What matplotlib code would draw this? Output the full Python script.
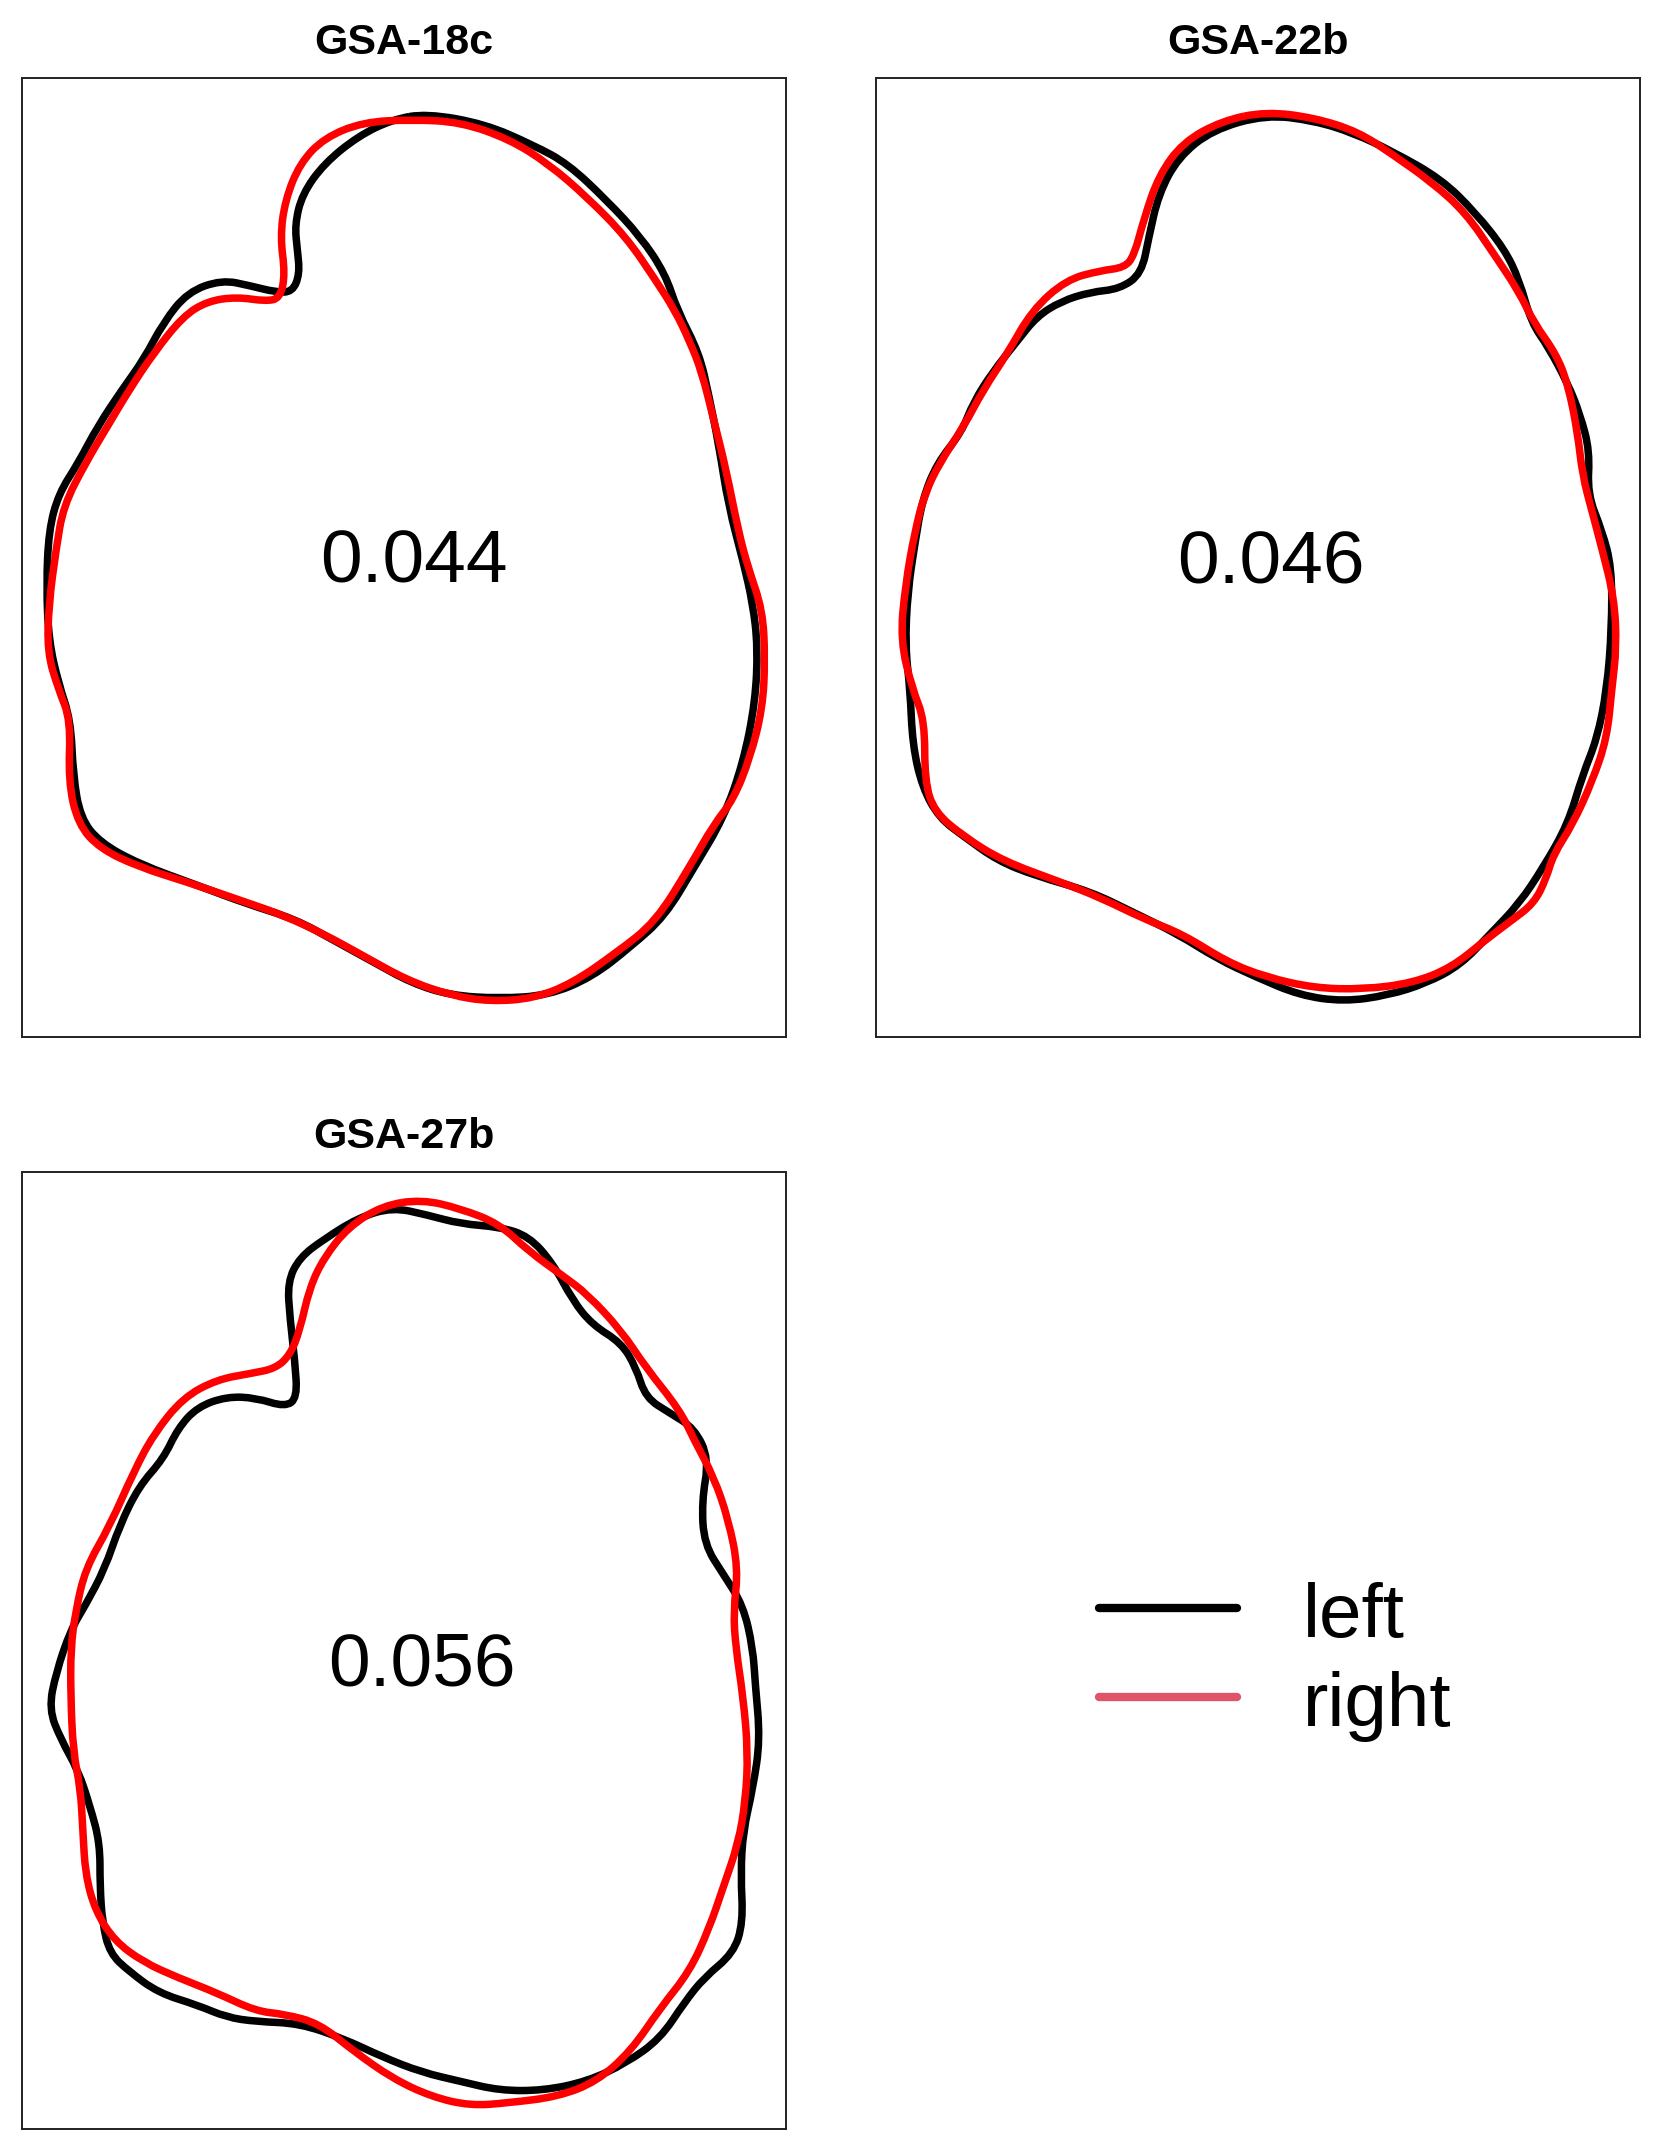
import matplotlib.pyplot as plt
from matplotlib.lines import Line2D
from matplotlib.path import Path
from matplotlib.patches import PathPatch
import numpy as np

plt.rcParams['font.family'] = ['Liberation Sans', 'DejaVu Sans']

# outlines (x to the right, y downwards, 0..1568 box)
a18_left_x = [830, 950, 1050, 1120, 1200, 1270, 1320, 1345, 1390, 1410, 1430, 1450, 1480, 1500, 1510, 1505,
              1480, 1440, 1380, 1320, 1250, 1170, 1080, 980, 880, 800, 720, 640, 560, 460, 360, 240, 160,
              120, 105, 100, 75, 55, 50, 55, 75, 115, 155, 205, 250, 290, 340, 410, 470, 520, 555, 570,
              565, 560, 575, 620, 690, 760]
a18_left_y = [58, 75, 110, 140, 200, 260, 320, 380, 450, 520, 600, 700, 790, 860, 930, 1020,
              1120, 1210, 1290, 1370, 1420, 1470, 1500, 1505, 1500, 1480, 1445, 1410, 1375, 1350, 1320, 1285, 1250,
              1210, 1140, 1050, 990, 920, 830, 740, 680, 630, 570, 510, 460, 400, 350, 330, 340, 350, 350, 320,
              280, 240, 190, 140, 95, 68]
a18_right_x = [700, 800, 900, 1000, 1080, 1160, 1240, 1300, 1340, 1370, 1395, 1420, 1445, 1470, 1490, 1520,
               1525, 1520, 1495, 1460, 1420, 1370, 1300, 1220, 1130, 1050, 960, 880, 790, 700, 620, 540, 450,
               340, 240, 160, 115, 95, 100, 75, 52, 55, 70, 85, 130, 175, 220, 270, 330, 380, 440, 500,
               530, 540, 530, 540, 570, 620]
a18_right_y = [72, 68, 72, 100, 140, 195, 260, 330, 380, 430, 480, 560, 640, 740, 800, 870,
               950, 1030, 1110, 1180, 1220, 1290, 1380, 1430, 1480, 1505, 1510, 1500, 1475, 1435, 1400, 1370, 1345,
               1315, 1290, 1260, 1220, 1150, 1050, 1000, 940, 860, 770, 700, 630, 570, 510, 450, 390, 365, 358, 365,
               360, 320, 260, 200, 140, 98]

a22_left_x = [800, 900, 980, 1060, 1160, 1230, 1290, 1320, 1345, 1380, 1420, 1445, 1465, 1460, 1490, 1510,
              1510, 1500, 1480, 1450, 1420, 1370, 1320, 1260, 1200, 1130, 1050, 960, 870, 780, 700, 620, 530,
              440, 330, 250, 180, 130, 95, 75, 70, 60, 65, 80, 95, 125, 175, 200, 240, 290, 330, 380,
              440, 500, 545, 560, 580, 620, 690]
a22_left_y = [60, 70, 90, 120, 165, 220, 280, 330, 400, 440, 500, 550, 610, 680, 740, 800,
              900, 1000, 1080, 1140, 1220, 1290, 1350, 1400, 1450, 1480, 1500, 1510, 1500, 1470, 1440, 1400, 1365,
              1330, 1305, 1280, 1240, 1210, 1160, 1090, 1000, 930, 840, 760, 690, 630, 580, 530, 480, 430, 390, 365,
              350, 345, 320, 260, 190, 130, 85]
a22_right_x = [800, 900, 990, 1060, 1140, 1210, 1270, 1320, 1350, 1395, 1420, 1440, 1450, 1470, 1490, 1515,
               1520, 1510, 1500, 1470, 1430, 1390, 1375, 1350, 1300, 1250, 1180, 1100, 1000, 900, 800, 720, 630,
               550, 460, 380, 260, 180, 120, 100, 100, 75, 50, 60, 80, 100, 130, 180, 220, 270, 320, 390,
               460, 510, 530, 550, 580, 630, 710]
a22_right_y = [55, 65, 88, 125, 170, 220, 290, 350, 400, 450, 500, 580, 650, 710, 770, 850,
               930, 1000, 1080, 1150, 1220, 1270, 1310, 1350, 1380, 1410, 1455, 1480, 1490, 1488, 1470, 1445, 1400,
               1375, 1340, 1315, 1280, 1240, 1200, 1150, 1050, 1000, 920, 830, 740, 680, 630, 570, 510, 450, 380, 330,
               315, 310, 290, 230, 160, 105, 70]

a27_left_x = [760, 830, 900, 980, 1040, 1090, 1130, 1170, 1230, 1260, 1280, 1330, 1380, 1410, 1395, 1400,
              1440, 1480, 1500, 1505, 1515, 1500, 1480, 1475, 1480, 1460, 1400, 1360, 1310, 1240, 1160, 1070, 980,
              900, 820, 740, 660, 570, 480, 420, 360, 280, 220, 180, 165, 160, 160, 140, 115, 80, 55, 70,
              100, 130, 170, 200, 240, 290, 320, 360, 420, 480, 540, 565, 560, 550, 545, 570, 620, 690]
a27_left_y = [58, 70, 85, 90, 105, 150, 210, 250, 280, 320, 370, 395, 420, 470, 540, 610,
              660, 710, 780, 840, 930, 1010, 1080, 1150, 1230, 1280, 1320, 1360, 1420, 1460, 1490, 1505, 1505,
              1490, 1475, 1450, 1420, 1395, 1392, 1385, 1365, 1345, 1310, 1280, 1230, 1170, 1100, 1040, 980, 930, 880, 820,
              750, 710, 650, 580, 515, 470, 420, 385, 368, 370, 385, 370, 310, 240, 180, 140, 110, 75]
a27_right_x = [820, 900, 980, 1040, 1110, 1160, 1230, 1280, 1350, 1380, 1420, 1450, 1470, 1460, 1465, 1480,
               1490, 1485, 1470, 1440, 1410, 1370, 1310, 1250, 1180, 1100, 1000, 920, 840, 760, 680, 610, 540,
               480, 400, 320, 250, 190, 150, 130, 125, 120, 105, 100, 100, 110, 130, 180, 230, 270, 330, 400,
               470, 520, 550, 570, 590, 620, 670, 740]
a27_right_y = [45, 60, 85, 130, 170, 200, 260, 320, 390, 440, 500, 570, 650, 720, 780, 860,
               950, 1030, 1100, 1170, 1240, 1310, 1370, 1440, 1490, 1515, 1525, 1530, 1515, 1485, 1440, 1395, 1380,
               1375, 1345, 1320, 1295, 1260, 1210, 1150, 1080, 1010, 950, 860, 780, 720, 650, 580, 490, 430, 370, 340,
               330, 322, 300, 260, 190, 140, 90, 55]

titles = ['GSA-18c', 'GSA-22b', 'GSA-27b']
scores = ['0.044', '0.046', '0.056']
score_x = [805, 810, 820]
score_y = [793, 795, 810]
outlines = [(a18_left_x, a18_left_y, a18_right_x, a18_right_y),
            (a22_left_x, a22_left_y, a22_right_x, a22_right_y),
            (a27_left_x, a27_left_y, a27_right_x, a27_right_y)]


def closed_curve(xs, ys):
    # traced points used as control points of a closed quadratic spline path
    p = np.column_stack([xs, ys]).astype(float)
    n = len(p)
    mid = (p + np.roll(p, -1, axis=0)) / 2
    verts = [mid[-1]]
    codes = [Path.MOVETO]
    for i in range(n):
        verts += [p[i], mid[i]]
        codes += [Path.CURVE3, Path.CURVE3]
    return Path(verts, codes)


W, H = 1662, 2154
fig = plt.figure(figsize=(W / 100, H / 100), dpi=100)

# panel boxes in pixels: left, top, right, bottom
boxes = [(22, 78, 786, 1037), (876, 78, 1640, 1037), (22, 1172, 786, 2129)]

for i in range(3):
    l, t, r, b = boxes[i]
    ax = fig.add_axes([l / W, 1 - b / H, (r - l) / W, (b - t) / H])
    lx, ly, rx, ry = outlines[i]
    ax.add_patch(PathPatch(closed_curve(lx, ly), fill=False, edgecolor='black', lw=5.4,
                           joinstyle='round'))
    ax.add_patch(PathPatch(closed_curve(rx, ry), fill=False, edgecolor='#ff0000', lw=5.4,
                           joinstyle='round'))
    ax.text(score_x[i], score_y[i], scores[i], fontsize=54, ha='center', va='center')
    ax.set_xlim(0, 1568)
    ax.set_ylim(1568, 0)
    ax.set_xticks([])
    ax.set_yticks([])
    for s in ax.spines.values():
        s.set_linewidth(1.4)
        s.set_color('#222222')
    ax.set_title(titles[i], fontsize=31, fontweight='bold', pad=17)

# legend, drawn by hand in the empty corner
leg_labels = ['left', 'right']
leg_colors = ['black', '#DF536B']
leg_y = [1608, 1697]
text_y = [1617, 1706]
for lab, col, y, ty in zip(leg_labels, leg_colors, leg_y, text_y):
    fig.add_artist(Line2D([1099 / W, 1237 / W], [1 - y / H, 1 - y / H], color=col, lw=6,
                          solid_capstyle='round'))
    fig.text(1303 / W, 1 - ty / H, lab, fontsize=55, va='center', ha='left')

fig.savefig('out.png', dpi=100, facecolor='white')
